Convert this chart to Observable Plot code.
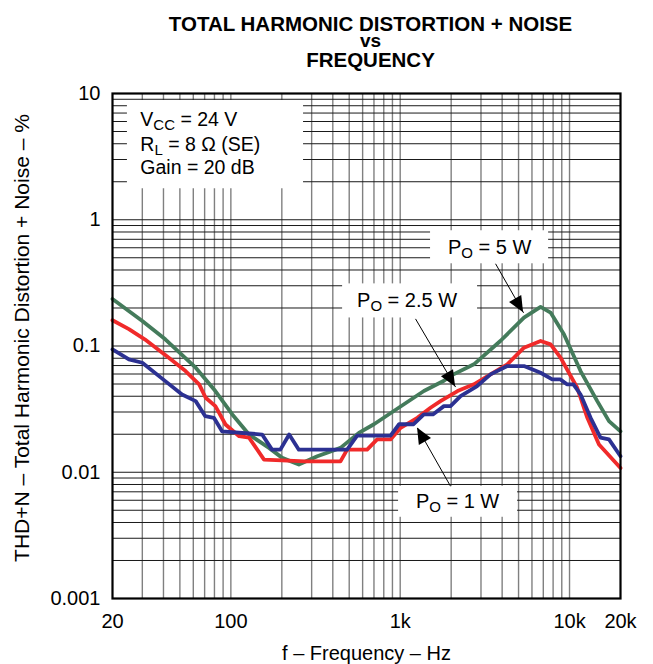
<!DOCTYPE html>
<html><head><meta charset="utf-8">
<script src="https://cdn.jsdelivr.net/npm/d3@7"></script>
<script src="https://cdn.jsdelivr.net/npm/@observablehq/plot@0.6"></script>
<style>body{margin:0;background:#fff}</style>
</head><body><div id="chart"></div>
<script>
// ---- data ----
const f5W = [20, 30, 41, 62, 81, 102, 128, 168, 201, 252, 324, 444, 570, 700, 1000, 1380, 1812, 1983, 2724, 3918, 5383, 6748, 7728, 9267, 11620, 14580, 17100, 20000];
const v5W = [0.236, 0.158, 0.113, 0.0673, 0.044, 0.0287, 0.0199, 0.0156, 0.013, 0.0115, 0.0134, 0.0156, 0.0205, 0.024, 0.033, 0.044, 0.053, 0.058, 0.0716, 0.11, 0.168, 0.204, 0.184, 0.124, 0.0633, 0.0366, 0.0254, 0.0211];

const f2W = [20, 25, 31, 43, 54, 65, 71, 81, 93, 112, 128, 157, 276, 444, 486, 638, 731, 877, 1006, 1262, 1510, 1730, 2181, 2724, 3415, 4290, 5383, 6748, 7728, 8850, 11100, 12740, 14930, 20000];
const v2W = [0.160, 0.136, 0.113, 0.0808, 0.0633, 0.0497, 0.0389, 0.0334, 0.0239, 0.0193, 0.0188, 0.0126, 0.0122, 0.0122, 0.0151, 0.0151, 0.0182, 0.0182, 0.0225, 0.027, 0.0324, 0.0366, 0.044, 0.0497, 0.0596, 0.0716, 0.097, 0.1096, 0.103, 0.0808, 0.0467, 0.027, 0.0166, 0.0108];

const f1W = [20, 25, 30, 41, 51.5, 62, 70.6, 79.4, 88.7, 153, 175, 196, 221, 252, 486, 557, 877, 985, 1200, 1380, 1560, 1812, 1983, 2272, 2848, 3415, 4290, 5383, 6748, 7900, 8850, 9650, 10550, 11620, 13320, 15230, 17100, 20000];
const v1W = [0.094, 0.0784, 0.0737, 0.0527, 0.0413, 0.0366, 0.0278, 0.027, 0.0211, 0.0199, 0.0151, 0.0151, 0.0199, 0.0151, 0.0151, 0.0195, 0.0195, 0.024, 0.024, 0.0287, 0.0287, 0.0334, 0.0334, 0.0401, 0.0482, 0.0596, 0.0694, 0.0694, 0.0614, 0.0544, 0.0544, 0.0497, 0.0497, 0.0413, 0.027, 0.0188, 0.0182, 0.0134];

const seriesNames = ["5W", "2.5W", "1W"];
const seriesColors = ["#447b5b", "#f02a2a", "#2c3192"];

const xTickValues = [20, 100, 1000, 10000, 20000];
const xTickLabels = ["20", "100", "1k", "10k", "20k"];
const yTickValues = [0.001, 0.01, 0.1, 1, 10];
const yTickLabels = ["0.001", "0.01", "0.1", "1", "10"];

const xGrid = [30, 40, 50, 60, 70, 80, 90, 100, 200, 300, 400, 500, 600, 700, 800, 900, 1000, 2000, 3000, 4000, 5000, 6000, 7000, 8000, 9000, 10000];
const yGrid = [0.002, 0.003, 0.004, 0.005, 0.006, 0.007, 0.008, 0.009, 0.01, 0.02, 0.03, 0.04, 0.05, 0.06, 0.07, 0.08, 0.09, 0.1, 0.2, 0.3, 0.4, 0.5, 0.6, 0.7, 0.8, 0.9, 1, 2, 3, 4, 5, 6, 7, 8, 9];

const titleLines = ["TOTAL HARMONIC DISTORTION + NOISE", "vs", "FREQUENCY"];
const xLabel = "f \u2013 Frequency \u2013 Hz";
const yLabel = "THD+N \u2013 Total Harmonic Distortion + Noise \u2013 %";

const paramLines = ["V_{CC} = 24 V", "R_{L} = 8 \u03A9 (SE)", "Gain = 20 dB"];
const paramF = [29.2, 29.2, 29.2];
const paramV = [5.57, 3.53, 2.318];
const paramBox = [{f1: 24.5, f2: 268.7, v1: 1.76, v2: 8.8}];

const annLabels = ["P_{O} = 5 W", "P_{O} = 2.5 W", "P_{O} = 1 W"];
const annLabelF = [3372, 1098, 2182];
const annLabelV = [0.605, 0.229, 0.00589];
const annBoxF1 = [1511, 457, 978];
const annBoxF2 = [7524, 2864, 4934];
const annBoxV1 = [0.818, 0.3105, 0.00774];
const annBoxV2 = [0.448, 0.1668, 0.0044];
const arrowF1 = [3658, 1232, 1984];
const arrowV1 = [0.448, 0.164, 0.00774];
const arrowF2 = [5354, 2124, 1266];
const arrowV2 = [0.183, 0.0473, 0.0224];

// ---- build tables ----
const seriesF = [f5W, f2W, f1W], seriesV = [v5W, v2W, v1W];
const lines = seriesNames.map((s, k) => seriesF[k].map((f, i) => ({f, v: seriesV[k][i], s})));
const params = paramLines.map((t, i) => ({t, f: paramF[i], v: paramV[i]}));
const anns = annLabels.map((t, i) => ({t, f: annLabelF[i], v: annLabelV[i],
  bf1: annBoxF1[i], bf2: annBoxF2[i], bv1: annBoxV1[i], bv2: annBoxV2[i],
  af1: arrowF1[i], av1: arrowV1[i], af2: arrowF2[i], av2: arrowV2[i]}));
const xMap = new Map(xTickValues.map((d, i) => [d, xTickLabels[i]]));
const yMap = new Map(yTickValues.map((d, i) => [d, yTickLabels[i]]));

function arrowHeads(index, scales) {
  const g = d3.create("svg:g");
  anns.forEach(a => {
    const x1 = scales.x(a.af1), y1 = scales.y(a.av1), x2 = scales.x(a.af2), y2 = scales.y(a.av2);
    const dx = x2 - x1, dy = y2 - y1, len = Math.hypot(dx, dy);
    const ux = dx / len, uy = dy / len, L = 16, W = 7;
    const bx = x2 - L * ux, by = y2 - L * uy;
    g.append("path")
      .attr("d", `M${x2},${y2}L${bx - W * uy},${by + W * ux}L${bx + W * uy},${by - W * ux}Z`)
      .attr("fill", "black");
  });
  return g.node();
}

const FONT = "'Liberation Sans', Arial, Helvetica, sans-serif";

const plot = Plot.plot({
  width: 653,
  height: 664,
  marginLeft: 112,
  marginRight: 33,
  marginTop: 93,
  marginBottom: 66,
  style: {fontFamily: FONT, fontSize: "20px", background: "white", color: "black", overflow: "visible"},
  x: {type: "log", domain: [20, 20000]},
  y: {type: "log", domain: [0.001, 10]},
  marks: [
    Plot.ruleX(xGrid, {stroke: "#808080", strokeWidth: 1.4}),
    Plot.ruleY(yGrid, {stroke: "#1a1a1a", strokeWidth: 1}),
    Plot.rect(paramBox, {x1: "f1", x2: "f2", y1: "v1", y2: "v2", fill: "white"}),
    Plot.rect(anns, {x1: "bf1", x2: "bf2", y1: "bv1", y2: "bv2", fill: "white"}),
    ...lines.map((d, k) => Plot.line(d, {x: "f", y: "v", stroke: seriesColors[k], strokeWidth: 3.8, strokeLinejoin: "round"})),
    Plot.frame({stroke: "black", strokeWidth: 2.2}),
    Plot.link(anns, {x1: "af1", y1: "av1", x2: "af2", y2: "av2", stroke: "black", strokeWidth: 1}),
    arrowHeads,
    Plot.text(params, {x: "f", y: "v", text: "t", textAnchor: "start", lineAnchor: "bottom", fontSize: 19.5}),
    Plot.text(anns, {x: "f", y: "v", text: "t", textAnchor: "middle", lineAnchor: "middle", fontSize: 20}),
    Plot.axisX(xTickValues, {tickFormat: d => xMap.get(d), tickSize: 0, tickPadding: 15, fontSize: 20, label: null}),
    Plot.axisY(yTickValues, {tickFormat: d => yMap.get(d), tickSize: 0, tickPadding: 12, fontSize: 20, label: null}),
    Plot.text([titleLines[0]], {frameAnchor: "top", dy: -62.5, dx: 4, lineAnchor: "bottom", text: d => d, fontWeight: "bold", fontSize: 20.5}),
    Plot.text([titleLines[1]], {frameAnchor: "top", dy: -46.5, dx: 4, lineAnchor: "bottom", text: d => d, fontWeight: "bold", fontSize: 19}),
    Plot.text([titleLines[2]], {frameAnchor: "top", dy: -26.5, dx: 4, lineAnchor: "bottom", text: d => d, fontWeight: "bold", fontSize: 20.5}),
    Plot.text([xLabel], {frameAnchor: "bottom", dy: 61, lineAnchor: "bottom", text: d => d, fontSize: 20}),
    Plot.text([yLabel], {frameAnchor: "left", dx: -90, dy: -8, rotate: -90, textAnchor: "middle", lineAnchor: "middle", text: d => d, fontSize: 21})
  ]
});

// subscripts: X_{sub}
plot.querySelectorAll("text").forEach(t => {
  const s = t.textContent;
  if (!s.includes("_{")) return;
  const parts = s.split(/(_\{[^}]*\})/).filter(p => p.length);
  while (t.firstChild) t.removeChild(t.firstChild);
  let shifted = false;
  parts.forEach(p => {
    const ts = document.createElementNS("http://www.w3.org/2000/svg", "tspan");
    if (p.startsWith("_{")) {
      ts.textContent = p.slice(2, -1);
      ts.setAttribute("font-size", "15");
      ts.setAttribute("dy", "4");
      shifted = true;
    } else {
      ts.textContent = p;
      if (shifted) { ts.setAttribute("dy", "-4"); shifted = false; }
    }
    t.appendChild(ts);
  });
});

document.getElementById("chart").appendChild(plot);
</script></body></html>
